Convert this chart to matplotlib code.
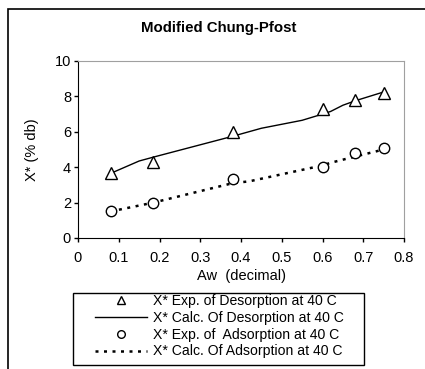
import matplotlib
matplotlib.use("Agg")
import matplotlib.pyplot as plt
from matplotlib.patches import Rectangle
from matplotlib.lines import Line2D

plt.rcParams['font.family'] = ['Liberation Sans', 'DejaVu Sans']

# Experimental data
aw_exp = [0.08, 0.185, 0.38, 0.60, 0.68, 0.75]
des_exp = [3.7, 4.3, 6.0, 7.3, 7.8, 8.2]
ads_exp = [1.55, 2.0, 3.35, 4.0, 4.8, 5.1]

# Calculated curves
aw_des_calc = [0.08, 0.15, 0.19, 0.38, 0.45, 0.55, 0.60, 0.62, 0.65, 0.68, 0.75]
des_calc = [3.65, 4.35, 4.6, 5.75, 6.2, 6.65, 7.0, 7.15, 7.5, 7.75, 8.25]
aw_ads_calc = [0.08, 0.185, 0.38, 0.42, 0.60, 0.62, 0.68, 0.75]
ads_calc = [1.5, 2.0, 3.1, 3.2, 4.1, 4.25, 4.6, 5.0]

title = "Modified Chung-Pfost"
xlabel = "Aw  (decimal)"
ylabel = "X* (% db)"
labels = ["X* Exp. of Desorption at 40 C",
          "X* Calc. Of Desorption at 40 C",
          "X* Exp. of  Adsorption at 40 C",
          "X* Calc. Of Adsorption at 40 C"]

W, H = 425, 369
fig = plt.figure(figsize=(W/100, H/100), dpi=100)
ax = fig.add_axes([78/W, 1-238/H, (404-78)/W, (238-61)/H])

dot_style = (0, (1.2, 2.2))
ax.plot(aw_des_calc, des_calc, color='black', lw=1.0, zorder=2)
ax.plot(aw_ads_calc, ads_calc, color='black', lw=1.8, linestyle=dot_style, zorder=2)
ax.plot(aw_exp, des_exp, linestyle='none', marker='^', ms=8, mfc='white', mec='black', mew=1.0, zorder=3)
ax.plot(aw_exp, ads_exp, linestyle='none', marker='o', ms=7.5, mfc='white', mec='black', mew=1.0, zorder=3)

ax.set_xlim(0, 0.8)
ax.set_ylim(0, 10)
ax.set_xticks([0, 0.1, 0.2, 0.3, 0.4, 0.5, 0.6, 0.7, 0.8])
ax.set_xticklabels(["0", "0.1", "0.2", "0.3", "0.4", "0.5", "0.6", "0.7", "0.8"])
ax.set_yticks([0, 2, 4, 6, 8, 10])
ax.tick_params(direction='out', length=3, width=1, labelsize=10.5, colors='black')
ax.tick_params(axis='x', pad=6)
ax.tick_params(axis='y', pad=2)
ax.spines['top'].set_color('#a0a0a0')
ax.spines['right'].set_color('#a0a0a0')
for s in ['left', 'bottom']:
    ax.spines[s].set_color('black')
ax.set_xlabel(xlabel, fontsize=10.5, labelpad=3)
ax.set_ylabel(ylabel, fontsize=10.5, labelpad=11)

fig.text(219/W, 1-28/H, title, ha='center', va='center', fontsize=10.8, fontweight='bold')

# outer frame
fig.add_artist(Rectangle((8/W, -0.1), 1.2, 1-9/H+0.1, transform=fig.transFigure,
                         fill=False, edgecolor='black', lw=1.2))

# legend box
fig.add_artist(Rectangle((73/W, 1-365/H), (364-73)/W, (365-293)/H, transform=fig.transFigure,
                         fill=True, facecolor='white', edgecolor='black', lw=1.0))

handles = [
    Line2D([], [], linestyle='none', marker='^', ms=6, mfc='white', mec='black', mew=1.0),
    Line2D([], [], color='black', lw=1.0),
    Line2D([], [], linestyle='none', marker='o', ms=5.5, mfc='white', mec='black', mew=1.0),
    Line2D([], [], color='black', lw=1.8, linestyle=dot_style),
]
leg = fig.legend(handles, labels, loc='upper left', bbox_to_anchor=(95/W, 1-294/H),
                 bbox_transform=fig.transFigure, fontsize=10.1, frameon=False,
                 handlelength=3.7, handletextpad=0.4,
                 labelspacing=0.2, borderpad=0, borderaxespad=0)
leg.set_zorder(5)

fig.savefig("out.png", dpi=100)
